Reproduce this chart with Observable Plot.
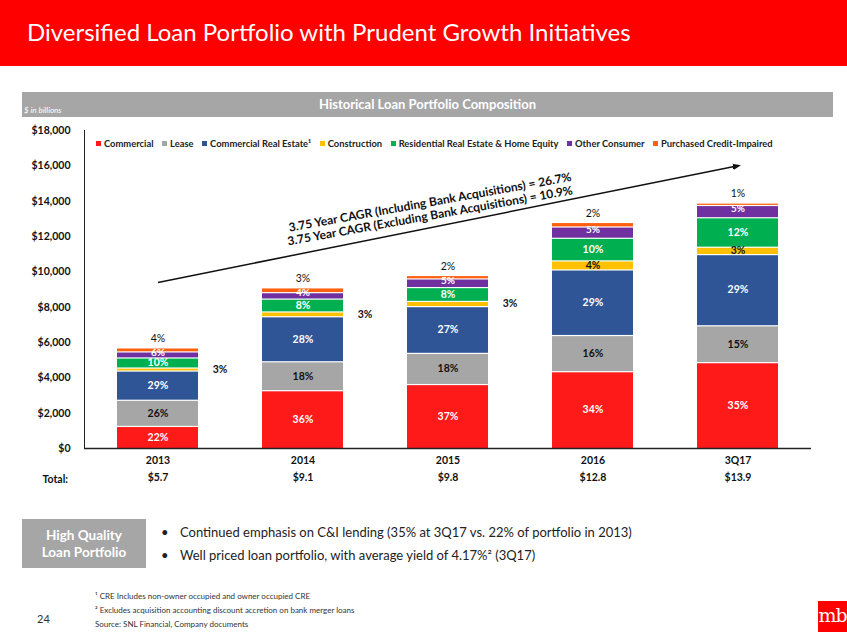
<!DOCTYPE html>
<html>
<head>
<meta charset="utf-8">
<script src="https://cdn.jsdelivr.net/npm/d3@7"></script>
<script src="https://cdn.jsdelivr.net/npm/@observablehq/plot@0.6"></script>
<style>
  html, body { margin: 0; padding: 0; background: #fff; }
  #page { position: relative; width: 847px; height: 635px; overflow: hidden; font-family: Lato, "Open Sans", sans-serif; }
  .abs { position: absolute; }
  #titlebar { left: 0; top: 0; width: 847px; height: 66px; background: #ff0000; }
  #title { left: 27px; top: 17px; font-size: 24px; line-height: 30px; color: #fff; white-space: nowrap; }
  #banner { left: 22px; top: 92px; width: 811px; height: 25px; background: #a6a6a6; }
  #banner .t { position: absolute; left: 0; right: 0; top: 0; line-height: 25px; text-align: center; color: #fff; font-weight: bold; font-size: 13px; }
  #banner .u { position: absolute; left: 2px; bottom: 2px; font-style: italic; font-size: 8px; color: #fff; }
  #chart { left: 0; top: 0; }
  #legend { left: 96px; top: 138px; display: flex; gap: 8.5px; font-size: 9.4px; font-weight: bold; color: #222; white-space: nowrap; align-items: center; }
  #legend .it { display: flex; align-items: center; }
  #legend .sw { width: 5px; height: 5px; margin-right: 3px; display: inline-block; }
  #hq { left: 22px; top: 519px; width: 124px; height: 49px; background: #a6a6a6; color: #fff; font-weight: bold; font-size: 13.5px; text-align: center; line-height: 17px; box-sizing: border-box; padding-top: 8px; }
  .bul { left: 161px; font-size: 13px; color: #222; white-space: nowrap; }
  .bul span { position: absolute; left: 19px; }
  .fn { left: 95px; font-size: 8px; color: #333; white-space: nowrap; }
  #pg { left: 37px; top: 612px; font-size: 11px; color: #333; }
  #logo { left: 818px; top: 601px; width: 29px; height: 31px; background: #ff0000; color: #fff; font-family: "DejaVu Serif", "Liberation Serif", serif; font-size: 19px; line-height: 29px; text-align: center; letter-spacing: -1px; }
</style>
</head>
<body>
<div id="page">
  <div id="titlebar" class="abs"></div>
  <div id="title" class="abs">Diversified Loan Portfolio with Prudent Growth Initiatives</div>
  <div id="banner" class="abs"><div class="t">Historical Loan Portfolio Composition</div><div class="u">$ in billions</div></div>
  <div id="chart" class="abs"></div>
  <div id="legend" class="abs"></div>
  <div id="hq" class="abs">High Quality<br>Loan Portfolio</div>
  <div class="abs bul" style="top:524px">•<span>Continued emphasis on C&amp;I lending (35% at 3Q17 vs. 22% of portfolio in 2013)</span></div>
  <div class="abs bul" style="top:547px">•<span>Well priced loan portfolio, with average yield of 4.17%² (3Q17)</span></div>
  <div class="abs fn" style="top:591px">¹ CRE Includes non-owner occupied and owner occupied CRE</div>
  <div class="abs fn" style="top:605px">² Excludes acquisition accounting discount accretion on bank merger loans</div>
  <div class="abs fn" style="top:619px">Source: SNL Financial, Company documents</div>
  <div id="pg" class="abs">24</div>
  <div id="logo" class="abs">mb</div>
</div>
<script>
// ---- data ----
const years = ["2013", "2014", "2015", "2016", "3Q17"];
const totals = [5.7, 9.1, 9.8, 12.8, 13.9]; // $ billions
const categories = ["Commercial", "Lease", "Commercial Real Estate¹", "Construction", "Residential Real Estate & Home Equity", "Other Consumer", "Purchased Credit-Impaired"];
const colors = ["#ff1a1a", "#a6a6a6", "#2f5597", "#ffc000", "#00b050", "#7030a0", "#ff6010"];
// share of portfolio, %
const commercial = [22, 36, 37, 34, 35];
const lease = [26, 18, 18, 16, 15];
const cre = [29, 28, 27, 29, 29];
const construction = [3, 3, 3, 4, 3];
const residential = [10, 8, 8, 10, 12];
const otherConsumer = [6, 4, 5, 5, 5];
const pci = [4, 3, 2, 2, 1];
const yTicks = [0, 2000, 4000, 6000, 8000, 10000, 12000, 14000, 16000, 18000];
const cagrLabels = ["3.75 Year CAGR (Including Bank Acquisitions) = 26.7%", "3.75 Year CAGR (Excluding Bank Acquisitions) = 10.9%"];
const cagrArrow = [{x1: "2013", y1: 9400, x2: "3Q17", y2: 16000}];
const cagrText = [{x: "2015", y: 13925, text: cagrLabels[0]}, {x: "2015", y: 13160, text: cagrLabels[1]}];

// ---- build rows ----
const shares = [commercial, lease, cre, construction, residential, otherConsumer, pci];
const rows = [];
years.forEach((yr, i) => {
  let acc = 0;
  categories.forEach((cat, c) => {
    const v = totals[i] * 1000 * shares[c][i] / 100;
    rows.push({year: yr, category: cat, pct: shares[c][i], value: v, y1: acc, y2: acc + v, mid: acc + v / 2});
    acc += v;
  });
});
const totalRows = years.map((yr, i) => ({year: yr, total: totals[i] * 1000, label: "$" + totals[i].toFixed(1)}));

const isPCI = d => d.category === "Purchased Credit-Impaired";
const isCons = d => d.category === "Construction";
const isOther = d => d.category === "Other Consumer";
const consOutside = d => isCons(d) && d.value < 350;
const darkInside = d => (d.category === "Lease" || (isCons(d) && !consOutside(d)));
const whiteInside = d => !isPCI(d) && !isCons(d) && !isOther(d) && d.category !== "Lease";

const fmtPct = d => d.pct + "%";
const lblFont = {fontSize: 10.5, fontWeight: "bold"};

const chart = Plot.plot({
  width: 847,
  height: 635,
  marginLeft: 84,
  marginRight: 36,
  marginTop: 130,
  marginBottom: 187,
  style: {fontFamily: "Lato, sans-serif", background: "transparent", overflow: "visible", color: "#111"},
  x: {domain: years, paddingInner: 0.443, paddingOuter: 0.2215, axis: null},
  y: {domain: [0, 18000], axis: null},
  color: {domain: categories, range: colors},
  marks: [
    Plot.barY(rows, {x: "year", y1: "y1", y2: "y2", fill: "category", insetTop: 1.2}),
    Plot.ruleY([0], {stroke: "#222", strokeWidth: 1.5}),
    Plot.frame({anchor: "left", stroke: "#222"}),
    Plot.axisY({ticks: yTicks, tickFormat: d => "$" + d3.format(",")(d), tickSize: 0, tickPadding: 14, fontSize: 10.5, fontWeight: "bold", label: null}),
    Plot.text(rows.filter(whiteInside), {x: "year", y: "mid", text: fmtPct, fill: "white", ...lblFont}),
    Plot.text(rows.filter(isOther), {x: "year", y: "mid", text: fmtPct, fill: "white", dy: -2.5, fontSize: 10, fontWeight: "bold"}),
    Plot.text(rows.filter(darkInside), {x: "year", y: "mid", text: fmtPct, fill: "#111", ...lblFont}),
    Plot.text(rows.filter(consOutside), {x: "year", y: "mid", text: fmtPct, fill: "#111", dx: 62, ...lblFont}),
    Plot.text(rows.filter(isPCI), {x: "year", y: "y2", text: fmtPct, fill: "#111", dy: -9, fontSize: 10.5}),
    Plot.text(years, {x: d => d, frameAnchor: "bottom", dy: 15, text: d => d, fill: "#111", ...lblFont}),
    Plot.text(totalRows, {x: "year", frameAnchor: "bottom", dy: 32, text: "label", fill: "#111", ...lblFont}),
    Plot.link(cagrArrow, {x1: "x1", y1: "y1", x2: "x2", y2: "y2", stroke: "#111", strokeWidth: 1.5, markerEnd: "arrow"}),
    Plot.text(cagrText, {x: "x", y: "y", text: "text", dx: -18, rotate: -10.2, fill: "#111", fontSize: 12, fontWeight: "bold"})
  ]
});
document.getElementById("chart").appendChild(chart);

// filled arrowhead
d3.select(chart).selectAll("marker").attr("fill", "#111").attr("stroke", "none")
  .select("path").attr("d", "M-6,-3.5L3,0L-6,3.5Z");

// "Total:" row label
d3.select(chart).append("text").attr("x", 68).attr("y", 448 + 32).attr("dy", "0.32em")
  .attr("text-anchor", "end").attr("font-size", 10.5).attr("font-weight", "bold").attr("fill", "#111").text("Total:");

// legend
const legend = document.getElementById("legend");
categories.forEach((c, i) => {
  const it = document.createElement("div");
  it.className = "it";
  it.innerHTML = `<span class="sw" style="background:${colors[i]}"></span>${c}`;
  legend.appendChild(it);
});
</script>
</body>
</html>
